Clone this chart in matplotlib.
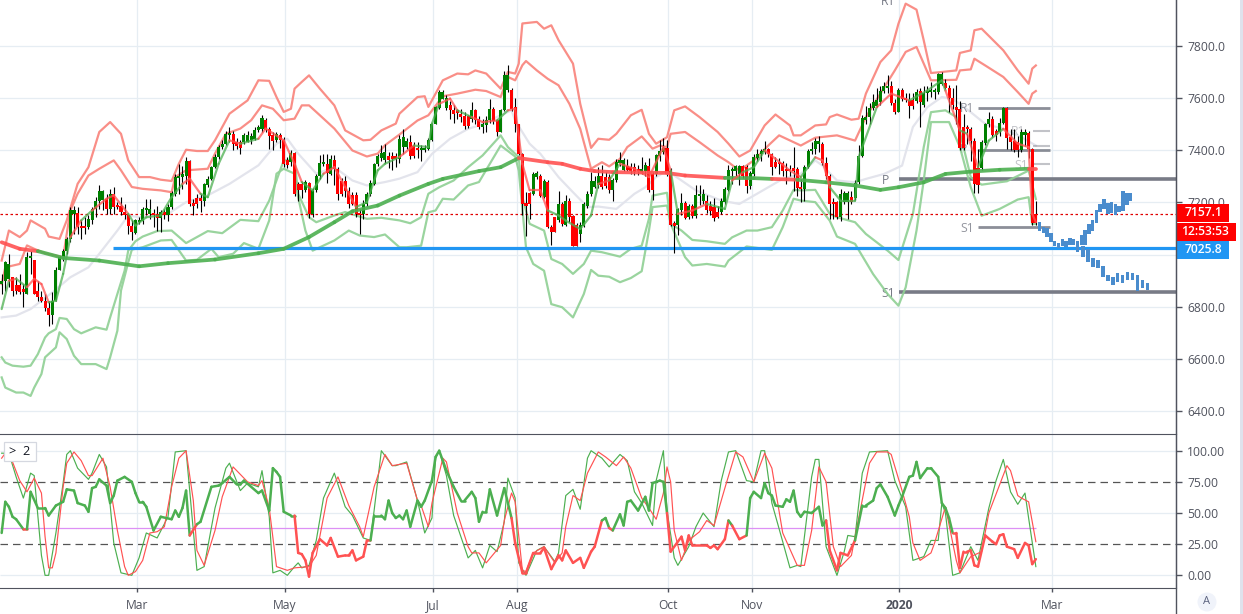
#chart of daily candles with bands, moving averages, pivots and a forecast, with an RSI pane below
import numpy as np
import matplotlib
matplotlib.use('Agg')
import matplotlib.pyplot as plt
from matplotlib.collections import LineCollection
from matplotlib.patches import Rectangle, Circle
from matplotlib.lines import Line2D

W, H = 1243, 614
plt.rcParams['font.family'] = ['Open Sans', 'DejaVu Sans']

#daily candles, one row is ten bars
opens = [6887,6900,6907,6913,6885,6885,6868,6849,6987,6981,
    6862,6839,6823,6795,6770,6821,6941,6990,7013,7058,
    7156,7159,7109,7105,7105,7131,7175,7204,7210,7214,
    7175,7233,7188,7188,7163,7150,7111,7082,7125,7127,
    7172,7154,7159,7156,7141,7163,7150,7182,7233,7295,
    7297,7303,7357,7195,7218,7218,7207,7265,7291,7335,
    7374,7412,7425,7457,7461,7431,7431,7431,7431,7440,
    7444,7476,7483,7517,7483,7457,7438,7457,7440,7361,
    7355,7389,7269,7269,7246,7275,7154,7246,7300,7348,
    7348,7310,7363,7329,7282,7282,7243,7230,7230,7161,
    7156,7192,7233,7271,7346,7371,7361,7376,7376,7376,
    7367,7412,7412,7431,7418,7409,7399,7402,7406,7438,
    7502,7563,7598,7563,7572,7555,7553,7540,7530,7530,
    7521,7553,7521,7489,7498,7514,7559,7514,7470,7553,
    7632,7632,7566,7499,7386,7197,7235,7233,7299,7303,
    7220,7278,7107,7143,7133,7192,7115,7207,7146,7115,
    7077,7111,7188,7233,7258,7265,7303,7299,7299,7246,
    7284,7351,7325,7338,7335,7335,7325,7316,7322,7338,
    7307,7307,7376,7393,7409,7320,7120,7114,7169,7199,
    7143,7188,7146,7226,7205,7207,7188,7184,7162,7162,
    7201,7249,7320,7322,7307,7338,7335,7261,7310,7371,
    7384,7393,7406,7384,7354,7354,7350,7325,7325,7333,
    7329,7258,7252,7335,7396,7405,7422,7422,7350,7303,
    7203,7201,7143,7203,7202,7220,7217,7277,7376,7517,
    7527,7563,7570,7585,7627,7640,7647,7581,7546,7632,
    7600,7593,7593,7587,7627,7572,7619,7623,7623,7623,
    7655,7658,7640,7601,7565,7559,7489,7489,7482,7437,
    7331,7331,7427,7499,7521,7472,7469,7504,7563,7450,
    7435,7431,7399,7460,7466,7405,7156]
closes = [6900,6970,6964,6862,6862,6855,6855,6992,6992,6849,
    6839,6823,6795,6770,6821,6941,6990,7013,7058,7169,
    7169,7105,7102,7102,7137,7175,7204,7242,7242,7175,
    7233,7182,7182,7163,7150,7109,7086,7131,7131,7175,
    7175,7175,7150,7141,7163,7150,7184,7235,7297,7300,
    7307,7357,7192,7188,7195,7205,7269,7291,7335,7374,
    7412,7425,7463,7461,7422,7415,7410,7457,7457,7453,
    7479,7489,7524,7479,7453,7435,7461,7438,7346,7342,
    7389,7233,7248,7248,7278,7154,7248,7303,7351,7351,
    7314,7365,7329,7233,7233,7243,7195,7195,7154,7150,
    7192,7233,7274,7346,7376,7389,7393,7364,7367,7367,
    7444,7450,7435,7376,7376,7399,7409,7409,7438,7502,
    7566,7623,7623,7600,7553,7540,7543,7527,7491,7491,
    7553,7517,7489,7502,7517,7559,7512,7470,7553,7687,
    7687,7559,7499,7386,7192,7188,7194,7310,7312,7224,
    7281,7105,7088,7088,7192,7118,7207,7143,7034,7034,
    7115,7192,7233,7281,7281,7303,7258,7261,7246,7287,
    7354,7361,7361,7325,7322,7316,7319,7329,7342,7248,
    7248,7380,7397,7409,7310,7115,7110,7175,7199,7139,
    7188,7146,7230,7233,7233,7169,7166,7141,7143,7205,
    7252,7325,7325,7338,7338,7303,7261,7312,7374,7384,
    7397,7406,7384,7335,7335,7348,7320,7320,7320,7322,
    7256,7252,7337,7396,7405,7437,7437,7350,7303,7194,
    7194,7143,7233,7235,7235,7201,7274,7376,7524,7527,
    7563,7585,7591,7629,7645,7647,7581,7546,7632,7597,
    7591,7568,7568,7623,7585,7619,7629,7627,7627,7691,
    7691,7640,7601,7572,7555,7409,7409,7482,7435,7271,
    7268,7431,7499,7521,7457,7457,7504,7563,7448,7431,
    7399,7399,7469,7469,7405,7120,7120]
highs = [6926,6977,7003,6913,6913,6926,6887,7009,7015,6981,
    6900,6862,6849,6823,6855,6951,6996,7022,7067,7182,
    7188,7182,7131,7143,7150,7182,7220,7265,7246,7233,
    7252,7259,7201,7220,7195,7156,7131,7137,7143,7182,
    7214,7214,7175,7188,7170,7175,7195,7245,7310,7348,
    7340,7374,7361,7214,7233,7233,7275,7300,7340,7385,
    7420,7440,7475,7489,7475,7445,7440,7465,7475,7465,
    7490,7495,7534,7525,7490,7470,7470,7465,7450,7375,
    7400,7395,7280,7280,7285,7280,7255,7310,7380,7385,
    7385,7380,7380,7335,7295,7300,7260,7240,7240,7175,
    7210,7240,7285,7350,7385,7419,7425,7395,7395,7390,
    7460,7480,7445,7460,7430,7430,7420,7420,7445,7505,
    7570,7630,7630,7610,7590,7575,7560,7560,7545,7535,
    7585,7560,7530,7520,7530,7595,7565,7520,7560,7705,
    7725,7640,7600,7500,7390,7240,7240,7315,7320,7310,
    7290,7285,7115,7145,7245,7200,7230,7215,7150,7120,
    7125,7200,7245,7315,7300,7335,7345,7315,7310,7295,
    7365,7395,7370,7365,7350,7350,7345,7375,7355,7370,
    7315,7385,7440,7445,7440,7330,7130,7180,7235,7205,
    7195,7195,7265,7265,7250,7230,7205,7215,7185,7215,
    7260,7345,7335,7345,7345,7345,7345,7320,7385,7405,
    7405,7435,7410,7390,7375,7370,7360,7350,7345,7412,
    7335,7290,7345,7405,7430,7445,7455,7430,7375,7310,
    7215,7205,7250,7245,7245,7245,7285,7420,7535,7570,
    7580,7615,7640,7645,7660,7690,7665,7595,7640,7640,
    7620,7620,7620,7635,7640,7645,7645,7660,7640,7695,
    7700,7675,7650,7640,7650,7590,7540,7495,7490,7445,
    7405,7440,7505,7545,7530,7480,7525,7565,7565,7480,
    7480,7455,7480,7480,7475,7410,7205]
lows = [6849,6862,6875,6843,6849,6849,6798,6849,6926,6849,
    6823,6817,6785,6727,6734,6821,6941,6977,7003,7047,
    7079,7079,7060,7079,7099,7118,7143,7175,7169,7156,
    7156,7156,7175,7150,7137,7079,7054,7079,7118,7118,
    7150,7137,7105,7092,7086,7137,7130,7175,7225,7233,
    7250,7271,7185,7150,7180,7163,7187,7258,7285,7330,
    7365,7405,7420,7430,7400,7405,7387,7425,7430,7425,
    7438,7470,7470,7470,7406,7400,7430,7410,7335,7330,
    7340,7225,7205,7215,7240,7140,7145,7240,7290,7340,
    7275,7305,7265,7210,7225,7220,7180,7190,7145,7079,
    7135,7185,7225,7265,7340,7360,7350,7330,7325,7335,
    7350,7385,7405,7365,7370,7370,7360,7395,7400,7435,
    7500,7560,7595,7555,7520,7505,7520,7510,7480,7485,
    7510,7500,7480,7465,7470,7505,7500,7455,7470,7550,
    7625,7550,7470,7380,7150,7070,7135,7230,7290,7220,
    7215,7100,7035,7085,7125,7110,7110,7125,7034,7034,
    7050,7105,7180,7225,7255,7255,7250,7255,7235,7205,
    7280,7340,7320,7320,7310,7305,7305,7310,7300,7240,
    7210,7300,7360,7385,7300,7110,7005,7075,7150,7135,
    7135,7140,7140,7190,7195,7160,7150,7130,7140,7155,
    7195,7245,7270,7300,7265,7295,7235,7250,7300,7360,
    7360,7385,7375,7305,7330,7310,7300,7270,7300,7245,
    7225,7200,7205,7330,7385,7385,7395,7345,7290,7135,
    7135,7135,7130,7195,7137,7195,7210,7270,7375,7500,
    7500,7555,7565,7575,7620,7620,7575,7540,7545,7590,
    7585,7525,7560,7583,7490,7565,7590,7605,7595,7615,
    7650,7635,7545,7560,7500,7400,7400,7425,7360,7235,
    7235,7325,7420,7490,7450,7435,7455,7500,7405,7400,
    7395,7375,7395,7415,7370,7115,7115]

#outer and inner upper bands, read at the turning points
upper_outer_x = [0,2,5,7,8,12,13,16,18,21,24,27,30,33,35,38,41,44,47,49,51,54,57,59,63,68,71,74,76,78,80,81,83,85,88,92,95,100,102,105,109,110,115,117,118,122,126,129,131,134,138,140,142,143,144,148,150,152,154,158,160,163,165,168,170,174,177,179,181,184,186,189,193,198,201,204,207,211,214,218,219,221,225,228,229,231,235,237,239,243,246,248,250,253,255,257,260,264,265,268,269,271,277,281,284,285,286]
upper_outer = [6977,7092,7067,7092,7131,7099,7069,7060,7131,7271,7335,7470,7508,7463,7361,7297,7297,7287,7282,7348,7402,7397,7397,7438,7540,7591,7668,7666,7604,7547,7559,7636,7662,7687,7636,7572,7476,7438,7440,7476,7502,7540,7604,7607,7566,7668,7694,7691,7706,7694,7636,7700,7694,7732,7886,7892,7866,7879,7822,7732,7578,7409,7444,7440,7463,7534,7555,7463,7425,7450,7553,7568,7527,7470,7425,7376,7399,7495,7537,7495,7457,7457,7495,7499,7527,7537,7517,7521,7617,7738,7783,7885,7962,7939,7821,7696,7700,7706,7773,7783,7860,7866,7783,7706,7655,7713,7725]
upper_inner_x = [0,1,5,7,9,12,17,19,21,24,27,31,33,36,39,44,47,48,51,57,59,62,66,69,72,75,78,81,83,85,88,92,97,101,104,106,110,115,118,122,126,131,134,138,140,142,144,145,148,151,154,157,160,163,166,168,171,173,177,180,182,184,185,189,193,198,201,204,208,212,215,219,221,225,231,236,239,243,247,250,253,255,257,264,265,268,269,272,277,281,284,285,286]
upper_inner = [6887,6951,6964,7035,7022,7005,6990,7169,7233,7303,7329,7361,7323,7259,7252,7246,7239,7297,7323,7329,7387,7463,7483,7515,7572,7559,7515,7521,7572,7572,7534,7483,7399,7376,7387,7419,7460,7514,7534,7607,7617,7632,7627,7604,7681,7668,7726,7742,7706,7674,7649,7578,7482,7329,7354,7338,7367,7412,7453,7406,7418,7412,7463,7470,7431,7380,7354,7322,7361,7418,7457,7431,7418,7448,7457,7437,7527,7617,7706,7777,7796,7732,7668,7670,7706,7710,7751,7725,7681,7623,7578,7617,7627]

#inner and outer lower bands
lower_inner_x = [0,1,3,6,8,10,12,13,15,16,18,20,22,26,29,30,32,34,35,37,39,43,47,51,57,61,66,71,74,78,81,82,85,87,92,95,101,105,110,113,116,118,121,125,129,133,138,140,143,144,146,150,152,155,158,161,163,166,171,174,177,179,180,184,185,188,191,195,200,202,206,209,213,216,219,221,225,229,231,236,239,245,248,252,255,257,261,264,266,268,271,278,284,286]
lower_inner = [6606,6586,6574,6570,6574,6618,6682,6698,6714,6757,6753,6714,6698,6721,6712,6759,6849,6938,7015,7051,7069,7090,7092,7044,7090,7082,7133,7128,7207,7361,7361,7233,7143,7124,7150,7163,7137,7141,7131,7120,7143,7233,7258,7284,7335,7380,7457,7412,7374,7220,7118,7092,6983,6964,6926,6964,7015,7009,6992,7022,7034,7137,7226,7237,7118,7092,7056,7051,7041,7066,7092,7092,7105,7169,7248,7246,7248,7156,7143,7124,7079,7015,6979,7156,7412,7546,7553,7527,7412,7297,7268,7281,7322,7213]
lower_outer_x = [0,1,4,6,8,9,11,12,15,16,18,20,22,26,29,30,32,33,35,36,39,44,47,51,54,58,60,64,67,71,74,76,78,81,82,84,86,92,96,99,103,106,110,112,116,118,120,122,125,129,132,135,138,142,143,145,147,150,152,155,158,161,163,165,168,171,174,177,179,180,184,185,189,191,195,200,201,206,213,216,219,221,225,229,231,236,241,245,248,250,253,255,257,262,265,268,271,276,281,284,285,286]
lower_outer = [6529,6490,6471,6471,6458,6490,6542,6606,6644,6702,6676,6612,6580,6580,6561,6606,6708,6862,6970,7019,7028,7054,7056,6977,6980,7022,6990,7003,7044,7022,7131,7310,7329,7310,7220,7092,7015,7054,7092,7073,7067,7077,7028,7028,7034,7162,7169,7214,7211,7265,7278,7348,7418,7376,7322,7028,6964,6938,6810,6798,6759,6849,6941,6919,6915,6894,6910,6936,7092,7182,7188,7118,6990,6958,6964,6954,6977,7031,7018,7105,7214,7207,7201,7130,7069,7041,6925,6849,6804,6874,7092,7284,7508,7508,7412,7258,7149,7175,7211,7220,7117,7117]

#slow moving average, changes colour with the price
slow_ma_x = [0,5,10,17,27,38,46,59,71,78,85,92,97,104,110,118,122,132,138,143,151,155,160,164,169,184,189,200,208,213,220,228,236,243,248,255,261,268,276,284,286]
slow_ma = [7047,7022,7013,6987,6977,6955,6967,6981,7005,7022,7067,7124,7166,7188,7226,7271,7290,7320,7335,7370,7354,7348,7329,7320,7316,7313,7303,7294,7293,7290,7287,7277,7265,7248,7258,7277,7309,7318,7325,7329,7329]

#pale grey moving average
grey_ma_x = [0,4,8,11,14,19,24,27,32,35,38,46,51,57,63,71,76,79,82,87,92,97,101,106,110,115,119,124,129,132,138,141,142,146,149,154,158,162,165,170,175,178,181,184,188,192,199,204,208,212,216,221,225,227,231,236,239,244,249,252,256,260,263,268,272,277,282,286]
grey_ma = [6759,6766,6791,6823,6855,6913,6951,7003,7092,7150,7143,7156,7201,7227,7271,7342,7425,7444,7387,7310,7335,7284,7265,7278,7291,7316,7386,7444,7482,7495,7534,7553,7514,7425,7386,7297,7239,7182,7184,7175,7233,7258,7297,7322,7284,7246,7207,7194,7226,7258,7290,7310,7361,7341,7284,7277,7290,7309,7341,7489,7565,7604,7597,7546,7501,7482,7450,7418]

#fast moving average that stays close to the candles
fast_ma_x = [0,2,4,7,9,11,13,15,17,19,22,25,29,31,35,37,40,44,47,50,52,55,57,60,63,66,71,73,78,81,83,86,89,92,95,98,101,104,106,110,114,118,119,121,124,126,130,133,137,140,142,144,146,149,151,154,156,160,163,165,168,171,175,179,183,185,187,191,195,200,202,205,208,211,214,218,221,225,227,229,232,236,237,242,246,251,256,260,261,265,267,270,273,277,281,284,285,286]
fast_ma = [6791,6900,6907,6875,6907,6887,6817,6823,6926,7067,7131,7169,7214,7227,7156,7111,7143,7150,7220,7271,7291,7233,7220,7348,7438,7425,7444,7483,7438,7348,7278,7246,7310,7335,7259,7182,7201,7323,7348,7374,7418,7412,7502,7578,7598,7553,7527,7508,7514,7553,7559,7348,7246,7246,7169,7150,7130,7098,7150,7271,7284,7348,7329,7297,7412,7322,7156,7169,7194,7175,7284,7316,7335,7399,7367,7322,7297,7373,7361,7258,7207,7207,7373,7565,7617,7591,7629,7668,7629,7476,7463,7335,7437,7482,7425,7412,7156,7124]

#pivot levels and their short labels
pivot_main = [7290, 6855]
pivot_main_start = 248.2
pivot_month = [7563, 7402, 7106]
pivot_month_start = 270
pivot_week = [7475, 7417, 7348]
pivot_week_start = 285.2
pivot_month_end = 290
alert_level = 7025.8
alert_start = 30.8
last_price = 7157.1

#two blue forecast paths, bars as top and bottom
forecast_a_top = [7126,7104,7100,7081,7053,7045,7061,7053,7065,7061,7053,7076,7094,7117,7132,7172,7194,7213,7198,7200,7194,7187,7245,7236,7236]
forecast_a_bot = [7091,7081,7066,7050,7034,7025,7034,7030,7036,7038,7008,7038,7038,7079,7089,7120,7164,7175,7155,7158,7152,7162,7166,7191,7207]
forecast_b_top = [7034,7021,6987,6980,6957,6923,6915,6929,6923,6934,6929,6923,6903,6892]
forecast_b_bot = [6989,6972,6953,6947,6915,6900,6884,6896,6892,6902,6903,6861,6870,6865]

#rsi pane
rsi_x = [0,1,2,3,4,6,7,8,10,12,13,15,17,18,20,21,23,24,25,26,27,29,30,31,32,34,36,37,38,39,40,42,44,47,48,49,50,51,52,54,55,58,60,61,63,65,66,67,71,72,74,75,76,77,78,80,81,82,83,84,85,86,88,90,91,93,95,96,97,98,100,101,102,103,105,106,107,108,109,110,111,112,113,115,116,117,119,120,121,123,125,127,128,130,131,132,133,134,135,137,139,141,142,144,145,147,149,150,152,154,155,156,158,160,161,163,164,166,167,168,169,171,172,173,174,176,178,179,180,182,183,184,185,188,189,190,191,195,196,197,198,200,201,202,204,206,207,208,210,211,212,213,214,216,217,218,219,220,221,222,224,226,227,228,229,231,232,234,236,238,239,241,242,243,245,247,248,249,251,252,253,254,256,257,259,260,261,262,263,264,265,266,267,268,269,270,272,274,275,276,277,278,280,281,283,284,285,286]
rsi = [34,59,55,47,45,37,37,67,54,54,48,56,59,69,68,58,56,51,70,71,77,72,58,64,76,79,75,66,59,59,55,36,47,45,52,47,54,68,32,41,43,71,72,74,79,73,73,76,66,68,52,86,83,79,51,48,48,18,17,12,-1,18,29,24,30,15,16,16,20,12,15,28,28,48,48,45,60,50,46,48,45,52,39,60,55,60,76,95,100,84,71,60,60,67,62,43,51,51,69,48,70,46,26,2,2,18,18,22,5,16,12,20,10,14,6,19,23,44,46,38,36,49,40,59,60,52,63,52,74,76,75,50,19,31,20,32,24,24,22,24,21,29,44,40,29,32,62,67,62,74,66,64,56,55,61,59,68,51,47,51,50,55,40,44,20,4,18,16,28,56,56,60,70,73,63,48,56,63,79,80,91,78,86,86,79,58,54,46,34,34,6,19,19,20,8,7,32,27,25,32,33,23,21,14,26,24,9,13]
rsi_fast_x = [0,2,4,6,8,9,11,12,13,15,17,18,19,21,24,25,27,29,31,33,36,38,40,43,46,48,51,53,54,56,59,62,63,66,68,71,72,74,75,77,79,81,82,83,85,87,89,92,95,97,100,102,104,105,108,109,112,115,117,119,120,121,123,125,127,129,131,133,135,137,139,140,142,143,145,148,150,153,154,156,158,160,162,163,166,168,171,173,175,177,179,180,181,183,184,186,187,190,192,194,197,199,201,203,206,208,210,211,213,216,218,220,221,224,225,226,228,231,233,234,236,238,240,245,247,250,252,255,257,259,260,261,263,265,268,270,273,275,277,279,281,283,284,286]
rsi_fast = [98,98,79,62,82,80,16,0,0,34,74,97,100,86,77,82,97,87,26,2,0,14,34,30,47,99,100,36,4,7,54,86,90,68,74,71,84,47,2,4,0,7,10,6,8,28,62,82,55,48,30,28,76,100,88,88,91,60,34,46,94,100,80,48,31,14,20,6,24,19,43,78,62,10,0,20,23,11,18,64,69,53,94,100,94,87,97,92,67,58,46,40,76,100,52,14,8,23,39,50,39,76,99,100,76,75,100,100,58,27,6,8,7,79,93,93,23,0,19,32,31,82,99,100,76,55,12,15,28,28,58,50,0,2,23,12,54,76,93,67,57,66,46,7]
rsi_slow_x = [0,1,3,5,7,9,11,12,13,14,15,17,18,20,22,24,25,28,30,32,34,35,37,39,41,43,45,47,49,51,53,54,56,59,61,64,68,71,72,74,76,79,81,85,87,90,93,96,99,100,103,106,108,112,115,116,118,119,121,122,123,126,129,130,132,134,138,139,141,142,144,145,147,150,153,155,156,158,160,162,165,167,170,172,174,177,179,181,183,184,185,186,188,190,193,195,197,200,203,205,208,211,213,216,220,222,224,226,228,230,232,235,236,240,242,245,246,249,251,252,254,257,258,261,264,265,268,271,273,278,279,281,282,284,286]
rsi_slow = [94,98,91,76,67,78,66,31,6,6,18,71,90,99,92,80,80,94,71,36,7,0,3,12,34,35,39,71,94,100,60,20,8,36,63,87,75,72,76,54,7,4,6,7,16,62,79,56,39,31,71,97,88,90,60,56,39,58,82,94,91,50,23,18,18,10,24,44,66,59,4,3,18,23,10,18,39,64,60,82,99,95,88,95,86,62,54,45,66,87,75,36,12,28,35,44,40,70,99,95,75,98,86,34,8,8,36,87,75,23,7,16,31,90,99,99,97,68,47,26,12,18,26,55,12,2,15,19,50,88,84,64,62,59,27]
rsi_mid_level = 37.7
rsi_dash_levels = [75, 25]

#axis labels, the 7000 one sits behind the blue price box so it stays empty
price_ticks = [6400,6600,6800,7000,7200,7400,7600,7800]
price_labels = ['6400.0','6600.0','6800.0','','7200.0','7400.0','7600.0','7800.0']
rsi_ticks = [0,25,50,75,100]
rsi_grid = [0,50,100]
date_ticks = [37.5,78.4,119.3,142.4,184.3,207.4,248.2,290.4]
date_labels = ['Mar','May','Jul','Aug','Oct','Nov','2020','Mar']

GREEN_BODY, RED_BODY = '#008000', '#ff0000'
LINE_GREEN, LINE_RED = '#4caf50', '#ff5252'
INK = '#50535e'
GRID = '#e6edf3'
PIVOT = '#787b86'


#small helper, figure rectangle from picture pixels
def px_rect(x0, y0, x1, y1):
    return (x0/W, 1-y1/H), (x1-x0)/W, (y1-y0)/H


#line whose segments go green or red depending on where the close is
def price_coloured_line(ax, xs, ys, lw, alpha, zorder):
    closes_arr = np.array(closes)
    points = np.column_stack([xs, ys])
    segs = np.stack([points[:-1], points[1:]], axis=1)
    cols = [LINE_GREEN if closes_arr[min(xs[k+1], len(closes)-1)] >= ys[k+1] else LINE_RED for k in range(len(xs)-1)]
    ax.add_collection(LineCollection(segs, colors=cols, linewidths=lw, alpha=alpha, zorder=zorder, capstyle='round'))


def draw_candles(ax):
    x = np.arange(len(closes))
    o, c = np.array(opens), np.array(closes)
    ax.vlines(x, lows, highs, color='black', lw=0.8, zorder=3)
    cols = [GREEN_BODY if cc >= oo else RED_BODY for oo, cc in zip(o, c)]
    height = np.maximum(np.abs(c-o), 8)
    ax.bar(x, height, bottom=np.minimum(o, c), width=0.84, color=cols, zorder=3.1, linewidth=0)


def draw_price_pane(ax):
    ax.set_xlim(-0.46, 324.76)
    ax.set_ylim(6312, 7976)
    ax.set_yticks(price_ticks)
    ax.set_yticklabels(price_labels)
    ax.set_xticks(date_ticks)
    ax.tick_params(axis='x', length=0, labelbottom=False)
    ax.grid(True, color=GRID, lw=0.9, zorder=0)

    ax.hlines(pivot_main, pivot_main_start, 324.76, color=PIVOT, lw=2.6, zorder=2.2)
    ax.hlines(pivot_month, pivot_month_start, pivot_month_end, color=PIVOT, alpha=0.85, lw=2, zorder=2.2)
    ax.hlines(pivot_week, pivot_week_start, pivot_month_end, color=PIVOT, alpha=0.45, lw=1.5, zorder=2.2)
    for txt, xp, yp, al in [('R1',245.1,7972,1),('P',244.3,7283,1),('S1',245.1,6850,1),('R1',267,7560,.8),('P',266,7402,.8),('S1',267,7099,.8),('R1',281,7471,.45),('S1',282,7341,.45)]:
        ax.text(xp, yp, txt, color=PIVOT, alpha=al, fontsize=8.7, ha='center', va='center', zorder=2.1)

    ax.plot(grey_ma_x, grey_ma, color='#e3e4ec', lw=1.6, zorder=2)
    ax.plot(upper_outer_x, upper_outer, color='#f9827a', lw=1.6, alpha=0.9, zorder=2.5)
    ax.plot(upper_inner_x, upper_inner, color='#f9827a', lw=1.6, alpha=0.9, zorder=2.5)
    ax.plot(lower_inner_x, lower_inner, color='#8fd094', lw=1.6, alpha=0.9, zorder=2.5)
    ax.plot(lower_outer_x, lower_outer, color='#8fd094', lw=1.6, alpha=0.9, zorder=2.5)

    ax.hlines(alert_level, alert_start, 324.76, color='#2196f3', lw=2.3, zorder=2.6)
    ax.axhline(last_price, color='#e00000', lw=0.9, ls=(0, (2, 2)), zorder=2.7)

    draw_candles(ax)
    price_coloured_line(ax, slow_ma_x, slow_ma, 2.7, 0.9, 3.3)
    price_coloured_line(ax, fast_ma_x, fast_ma, 1.6, 0.75, 3.4)

    #forecast bars go past the last candle
    ax_a = 287 + np.arange(len(forecast_a_top))*1.05
    ax_b = 299 + np.arange(len(forecast_b_top))*1.38
    ax.bar(ax_a, np.array(forecast_a_top)-np.array(forecast_a_bot), bottom=forecast_a_bot, width=0.95, color='#4a8ccd', zorder=3.5, linewidth=0)
    ax.bar(ax_b, np.array(forecast_b_top)-np.array(forecast_b_bot), bottom=forecast_b_bot, width=0.95, color='#4a8ccd', zorder=3.5, linewidth=0)


def draw_rsi_pane(ax):
    ax.set_xlim(-0.46, 324.76)
    ax.set_ylim(-10.4, 113.4)
    ax.set_yticks(rsi_ticks)
    ax.set_yticklabels([f'{t:.2f}' for t in rsi_ticks])
    ax.set_xticks(date_ticks)
    ax.set_xticklabels(date_labels)
    ax.get_xticklabels()[6].set_fontweight('bold')
    ax.grid(True, axis='x', color=GRID, lw=0.9, zorder=0)
    ax.hlines(rsi_grid, -0.46, 324.76, color=GRID, lw=0.9, zorder=0)
    ax.hlines(rsi_dash_levels, -0.46, 324.76, color='#555555', lw=0.9, linestyles=[(0, (6, 4))], zorder=1)
    ax.hlines(rsi_mid_level, -0.46, 286, color='#dd90f5', lw=0.9, zorder=1)

    ax.plot(rsi_fast_x, rsi_fast, color='#4caf50', lw=0.85, zorder=2)
    ax.plot(rsi_slow_x, rsi_slow, color='#ff5252', lw=0.85, zorder=2.1)

    #thick rsi is red while it is under the middle level
    pts = np.column_stack([rsi_x, rsi])
    segs = np.stack([pts[:-1], pts[1:]], axis=1)
    mids = (np.array(rsi[:-1]) + np.array(rsi[1:])) / 2
    cols = [LINE_RED if m < rsi_mid_level else LINE_GREEN for m in mids]
    ax.add_collection(LineCollection(segs, colors=cols, linewidths=1.8, zorder=3, capstyle='round'))


#the coloured boxes, collapse button and other bits that sit on the chart frame
def draw_frame_bits(fig):
    boxes = [(1176,204,1229,221.5,'#ff0000','7157.1',1185), (1176,222.5,1236,240.5,'#ff0000','12:53:53',1181), (1176,240.5,1229,258.5,'#2196f3','7025.8',1185)]
    for x0, y0, x1, y1, col, txt, tx in boxes:
        xy, wd, ht = px_rect(x0, y0, x1, y1)
        fig.add_artist(Rectangle(xy, wd, ht, transform=fig.transFigure, fc=col, ec='none', zorder=5))
        fig.text(tx/W, 1-(y0+y1)/2/H, txt, color='white', fontsize=8.7, fontweight='semibold', va='center', ha='left', zorder=6)

    xy, wd, ht = px_rect(1240, 0, 1243, 614)
    fig.add_artist(Rectangle(xy, wd, ht, transform=fig.transFigure, fc='#dfe2ec', ec='none', zorder=5))
    fig.add_artist(Line2D([1176/W, 1176/W], [0, 1], transform=fig.transFigure, color=INK, lw=1, zorder=5))

    xy, wd, ht = px_rect(3.5, 441.5, 36, 461)
    fig.add_artist(Rectangle(xy, wd, ht, transform=fig.transFigure, fc='white', ec='#d5d8e0', lw=0.9, zorder=5))
    fig.text(20/W, 1-451.5/H, '>  2', color='#131722', fontsize=9.2, ha='center', va='center', zorder=6)

    ax_c = fig.add_axes([0, 0, 1, 1], facecolor='none', zorder=7)
    ax_c.set_xlim(0, W)
    ax_c.set_ylim(H, 0)
    ax_c.axis('off')
    ax_c.add_patch(Circle((1207, 602), 9.5, fc='#f0f3fa', ec='none'))
    ax_c.text(1207, 602, 'A', color='#5d6480', fontsize=8, ha='center', va='center')


def main():
    fig = plt.figure(figsize=(W/100, H/100), dpi=100, facecolor='white')
    ax1 = fig.add_axes([0, 1-434/H, 1176/W, 434/H])
    ax2 = fig.add_axes([0, 1-588.3/H, 1176/W, 154.3/H])
    for ax in (ax1, ax2):
        ax.set_axisbelow(True)
        ax.yaxis.tick_right()
        ax.tick_params(axis='y', length=4, width=1, color=INK, labelcolor=INK, labelsize=8.7, pad=4)
        ax.tick_params(axis='x', length=3, width=1, color=INK, labelcolor=INK, labelsize=8.7, pad=5)
        for side in ('left', 'top', 'bottom'):
            ax.spines[side].set_visible(False)
        ax.spines['right'].set_color(INK)
    draw_price_pane(ax1)
    draw_rsi_pane(ax2)
    ax2.spines['top'].set_visible(True)
    ax2.spines['top'].set_color(INK)
    ax2.spines['bottom'].set_visible(True)
    ax2.spines['bottom'].set_color(INK)
    draw_frame_bits(fig)
    fig.savefig('out.png', dpi=100, facecolor='white')


if __name__ == '__main__':
    main()
